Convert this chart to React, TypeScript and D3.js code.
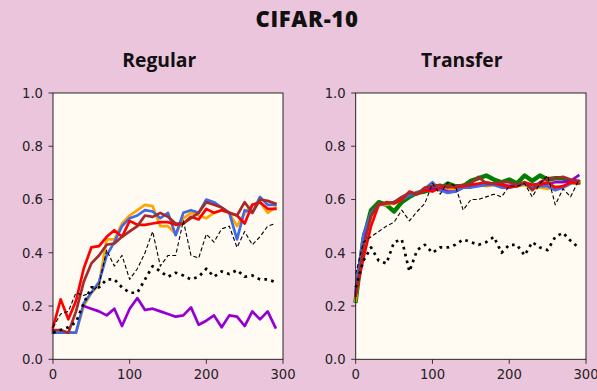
import React from "react";
import * as d3 from "d3";

const xs = d3.range(0, 300, 10);

// Regular panel
const regOrange = [0.10,0.10,0.10,0.10,0.20,0.25,0.28,0.45,0.45,0.51,0.54,0.56,0.58,0.575,0.50,0.50,0.47,0.53,0.55,0.54,0.53,0.55,0.56,0.55,0.50,0.55,0.58,0.59,0.55,0.57];
const regBlue = [0.10,0.10,0.10,0.10,0.21,0.25,0.29,0.39,0.44,0.50,0.53,0.54,0.56,0.555,0.53,0.55,0.466,0.55,0.56,0.55,0.60,0.59,0.57,0.55,0.45,0.56,0.55,0.61,0.58,0.58];
const regRed = [0.12,0.225,0.15,0.22,0.34,0.42,0.425,0.46,0.485,0.46,0.52,0.505,0.505,0.51,0.515,0.515,0.505,0.51,0.535,0.525,0.565,0.55,0.56,0.55,0.54,0.51,0.58,0.59,0.565,0.565];
const regBrown = [0.11,0.11,0.10,0.18,0.29,0.36,0.39,0.43,0.435,0.46,0.48,0.50,0.54,0.535,0.55,0.535,0.51,0.51,0.53,0.55,0.59,0.58,0.57,0.55,0.54,0.59,0.55,0.60,0.595,0.585];
const regPurple = [null,null,null,null,0.20,0.19,0.18,0.165,0.19,0.125,0.19,0.23,0.185,0.19,0.18,0.17,0.16,0.165,0.195,0.13,0.145,0.165,0.12,0.165,0.16,0.125,0.18,0.15,0.18,0.12];
const regDashed = [0.12,0.17,0.18,0.25,0.24,0.25,0.28,0.41,0.35,0.39,0.30,0.34,0.40,0.48,0.35,0.39,0.39,0.52,0.39,0.38,0.47,0.44,0.49,0.50,0.42,0.48,0.43,0.46,0.50,0.51];
const regDotted = [0.10,0.11,0.12,0.14,0.21,0.27,0.27,0.30,0.30,0.27,0.25,0.25,0.30,0.35,0.33,0.31,0.325,0.315,0.30,0.31,0.34,0.31,0.33,0.32,0.335,0.31,0.315,0.30,0.30,0.29];

// Transfer panel
const trGreen = [0.22,0.45,0.56,0.59,0.58,0.555,0.59,0.61,0.625,0.63,0.64,0.64,0.66,0.65,0.65,0.67,0.68,0.69,0.675,0.665,0.675,0.66,0.69,0.67,0.69,0.675,0.68,0.68,0.665,0.665];
const trOrange = [0.22,0.45,0.53,0.58,0.58,0.585,0.60,0.62,0.625,0.635,0.64,0.635,0.64,0.64,0.645,0.65,0.655,0.65,0.655,0.65,0.655,0.65,0.655,0.64,0.645,0.64,0.65,0.645,0.66,0.665];
const trPurple = [0.25,0.45,0.54,0.58,0.585,0.59,0.60,0.62,0.625,0.635,0.64,0.64,0.63,0.63,0.645,0.65,0.655,0.655,0.66,0.655,0.65,0.655,0.66,0.655,0.66,0.66,0.665,0.665,0.67,0.69];
const trBlue = [0.26,0.47,0.55,0.58,0.585,0.59,0.60,0.615,0.625,0.64,0.665,0.635,0.625,0.63,0.645,0.645,0.65,0.655,0.655,0.645,0.645,0.65,0.66,0.645,0.65,0.65,0.635,0.645,0.66,0.67];
const trRed = [0.24,0.38,0.50,0.58,0.59,0.585,0.60,0.63,0.62,0.635,0.63,0.645,0.65,0.645,0.65,0.655,0.66,0.665,0.66,0.655,0.645,0.65,0.665,0.655,0.655,0.665,0.645,0.65,0.665,0.66];
const trBrown = [0.24,0.42,0.54,0.585,0.585,0.59,0.61,0.625,0.62,0.645,0.65,0.655,0.645,0.65,0.655,0.66,0.685,0.66,0.66,0.665,0.665,0.655,0.665,0.635,0.665,0.68,0.68,0.685,0.675,0.67];
const trDashed = [0.32,0.44,0.46,0.48,0.50,0.515,0.56,0.52,0.555,0.585,0.66,0.62,0.665,0.65,0.56,0.60,0.60,0.61,0.62,0.61,0.65,0.65,0.66,0.61,0.66,0.69,0.58,0.64,0.61,0.67];
const trDotted = [0.27,0.37,0.42,0.37,0.36,0.44,0.45,0.33,0.41,0.43,0.40,0.42,0.42,0.43,0.45,0.44,0.43,0.44,0.46,0.40,0.43,0.43,0.39,0.44,0.42,0.41,0.46,0.475,0.445,0.42];

const xTicks = [0, 100, 200, 300];
const yTicks = [0, 0.2, 0.4, 0.6, 0.8, 1.0];

type S = { values: (number | null)[]; color: string; width: number; dash?: string };

const regularSeries: S[] = [
  { values: regOrange, color: "#ffa500", width: 2.7 },
  { values: regBlue, color: "#4169e1", width: 2.7 },
  { values: regRed, color: "#ff0000", width: 2.7 },
  { values: regBrown, color: "#a52a2a", width: 2.7 },
  { values: regPurple, color: "#9400d3", width: 2.7 },
  { values: regDashed, color: "#000000", width: 1.1, dash: "4,2.4" },
  { values: regDotted, color: "#000000", width: 2.7, dash: "2.7,4.3" },
];

const transferSeries: S[] = [
  { values: trGreen, color: "#008000", width: 4.4 },
  { values: trOrange, color: "#ffa500", width: 2.7 },
  { values: trPurple, color: "#9400d3", width: 2.7 },
  { values: trBlue, color: "#4169e1", width: 2.7 },
  { values: trRed, color: "#ff0000", width: 2.7 },
  { values: trBrown, color: "#a52a2a", width: 2.7 },
  { values: trDashed, color: "#000000", width: 1.1, dash: "4,2.4" },
  { values: trDotted, color: "#000000", width: 2.7, dash: "2.7,4.3" },
];

const W = 597, H = 391;
const top = 93, bottom = 359.3;

function Panel({ left, right, title, titleX, series }: { left: number; right: number; title: string; titleX: number; series: S[] }) {
  const x = d3.scaleLinear().domain([0, 300]).range([left, right]);
  const y = d3.scaleLinear().domain([0, 1]).range([bottom, top]);
  const line = d3.line<[number, number | null]>()
    .defined(d => d[1] !== null)
    .x(d => x(d[0]))
    .y(d => y(d[1] as number));
  const tick = "#222";
  return (
    <g>
      <text x={titleX} y={67.3} textAnchor="middle" fontFamily="'Open Sans', sans-serif" fontWeight={700} fontSize={19.3} fill="#111">{title}</text>
      <rect x={left} y={top} width={right - left} height={bottom - top} fill="#fffbf2" />
      {series.map((s, i) => (
        <path key={i} d={line(xs.map((v, j) => [v, s.values[j]]) as [number, number | null][]) || ""}
          fill="none" stroke={s.color} strokeWidth={s.width} strokeDasharray={s.dash}
          strokeLinejoin="round" strokeLinecap={s.dash ? "butt" : "square"} />
      ))}
      <rect x={left} y={top} width={right - left} height={bottom - top} fill="none" stroke="#111" strokeWidth={0.9} />
      {xTicks.map(t => (
        <g key={t}>
          <line x1={x(t)} x2={x(t)} y1={bottom} y2={bottom + 4.5} stroke={tick} strokeWidth={0.9} />
          <text x={x(t)} y={bottom + 20} textAnchor="middle" fontFamily="'DejaVu Sans', sans-serif" fontSize={13.2} fill="#222">{t}</text>
        </g>
      ))}
      {yTicks.map(t => (
        <g key={t}>
          <line x1={left - 4.5} x2={left} y1={y(t)} y2={y(t)} stroke={tick} strokeWidth={0.9} />
          <text x={left - 10} y={y(t) + 4.8} textAnchor="end" fontFamily="'DejaVu Sans', sans-serif" fontSize={13.2} fill="#222">{t.toFixed(1)}</text>
        </g>
      ))}
    </g>
  );
}

export default function App() {
  return (
    <svg width={W} height={H} style={{ position: "absolute", left: 0, top: 0, display: "block" }}>
      <rect x={0} y={0} width={W} height={H} fill="#ebc5dc" />
      <text x={307} y={27.3} textAnchor="middle" fontFamily="'Open Sans', sans-serif" fontWeight={800} fontSize={22} letterSpacing={0.7} fill="#111">CIFAR-10</text>
      <Panel left={53} right={283} title="Regular" titleX={159.3} series={regularSeries} />
      <Panel left={355.7} right={586} title="Transfer" titleX={461.7} series={transferSeries} />
    </svg>
  );
}
